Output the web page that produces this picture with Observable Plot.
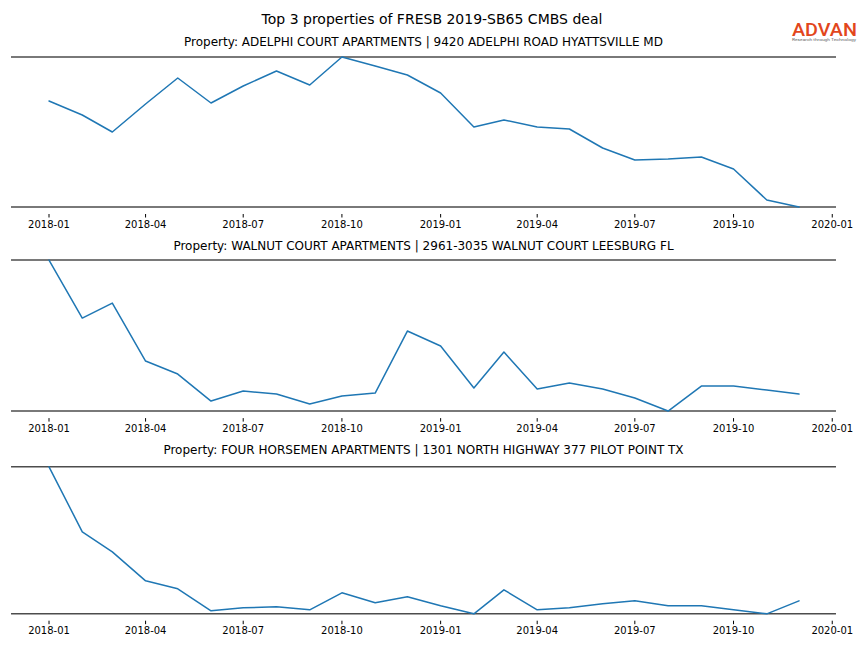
<!DOCTYPE html>
<html>
<head>
<meta charset="utf-8">
<script src="https://cdn.jsdelivr.net/npm/d3@7"></script>
<script src="https://cdn.jsdelivr.net/npm/@observablehq/plot@0.6"></script>
<style>
  html, body { margin: 0; padding: 0; background: #fff; }
  #page { position: relative; width: 864px; height: 648px; overflow: hidden; font-family: "DejaVu Sans", sans-serif; }
  .title { position: absolute; text-align: center; color: #000; white-space: nowrap; }
  .panel { position: absolute; left: 0; }
  .panel svg { overflow: visible; }
</style>
</head>
<body>
<div id="page"></div>
<script>
const months = ["2018-01","2018-02","2018-03","2018-04","2018-05","2018-06","2018-07","2018-08","2018-09","2018-10","2018-11","2018-12",
                "2019-01","2019-02","2019-03","2019-04","2019-05","2019-06","2019-07","2019-08","2019-09","2019-10","2019-11","2019-12"];

const adelphi  = [106, 92, 75, 103, 129, 104, 121, 136, 122, 150, 141, 132, 114, 80, 87, 80, 78, 59, 47, 48, 50, 38, 7, 0];
const walnut   = [151, 93, 108, 50, 37, 10, 20, 17, 7, 15, 18, 80, 65, 23, 59, 22, 28, 22, 13, 0, 25, 25, 21, 17];
const horsemen = [147, 82, 62, 33, 25, 3, 6, 7, 4, 21, 11, 17, 8, 0, 24, 4, 6, 10, 13, 8, 8, 4, 0, 13];

const mainTitle = "Top 3 properties of FRESB 2019-SB65 CMBS deal";
const panelTitles = [
  "Property: ADELPHI COURT APARTMENTS | 9420 ADELPHI ROAD HYATTSVILLE MD",
  "Property: WALNUT COURT APARTMENTS | 2961-3035 WALNUT COURT LEESBURG FL",
  "Property: FOUR HORSEMEN APARTMENTS | 1301 NORTH HIGHWAY 377 PILOT POINT TX"
];
const series = [adelphi, walnut, horsemen];

// layout (pixels of page)
const titleY = [42, 246, 450];
const ruleTop = [56, 260, 466];
const ruleBottom = [206, 411, 613];
const mLeft = 11, mRight = 28, W = 864;

const page = document.getElementById("page");

function addText(txt, y, size, left, width) {
  const d = document.createElement("div");
  d.className = "title";
  d.textContent = txt;
  d.style.fontSize = size + "px";
  d.style.lineHeight = size + "px";
  d.style.top = (y - size / 2) + "px";
  d.style.left = left + "px";
  d.style.width = width + "px";
  page.appendChild(d);
}

addText(mainTitle, 19, 14, 0, W);

const parse = d3.utcParse("%Y-%m");
const dates = months.map(parse);
const [d0, d1] = d3.extent(dates);
const span = d1 - d0;
const xDomain = [new Date(+d0 - 0.05 * span), new Date(+d1 + 0.05 * span)];

series.forEach((vals, i) => {
  addText(panelTitles[i], titleY[i], 12, mLeft, W - mLeft - mRight);
  const data = dates.map((d, j) => ({date: d, value: vals[j]}));
  const [lo, hi] = d3.extent(vals);
  const pad = 0.05 * (hi - lo);
  const pxRange = ruleBottom[i] - ruleTop[i];
  const axesH = pxRange * 1.1;
  const top = ruleTop[i] - pxRange * 0.05;
  const chart = Plot.plot({
    width: W,
    height: axesH + 26,
    marginLeft: mLeft,
    marginRight: mRight,
    marginTop: 0,
    marginBottom: 26,
    x: {type: "utc", domain: xDomain},
    y: {domain: [lo - pad, hi + pad], axis: null},
    style: {fontFamily: "DejaVu Sans", fontSize: "10px", background: "transparent", color: "#000"},
    marks: [
      Plot.ruleY([lo, hi], {stroke: "#4d4d4d", strokeWidth: 1.5}),
      Plot.lineY(data, {x: "date", y: "value", stroke: "#1f77b4", strokeWidth: 1.5}),
      Plot.axisX({ticks: d3.utcMonth.every(3), tickFormat: d3.utcFormat("%Y-%m"), tickSize: 3.5, tickPadding: 2.5, label: null, fontSize: 10, stroke: "#000"})
    ]
  });
  const wrap = document.createElement("div");
  wrap.className = "panel";
  wrap.style.top = top + "px";
  wrap.appendChild(chart);
  page.appendChild(wrap);
});

// logo
const logo = document.createElementNS("http://www.w3.org/2000/svg", "svg");
logo.setAttribute("width", 80);
logo.setAttribute("height", 34);
logo.style.position = "absolute";
logo.style.left = "786px";
logo.style.top = "14px";
logo.innerHTML =
  '<text x="6" y="21.5" font-family="Roboto, Arial, sans-serif" font-size="18.5" font-weight="500" fill="#e2461c" textLength="65" lengthAdjust="spacingAndGlyphs">ADVAN</text>' +
  '<text x="6" y="26.5" font-family="Roboto, Arial, sans-serif" font-size="3.8" fill="#666" textLength="64" lengthAdjust="spacingAndGlyphs">Research through Technology</text>';
page.appendChild(logo);
</script>
</body>
</html>
